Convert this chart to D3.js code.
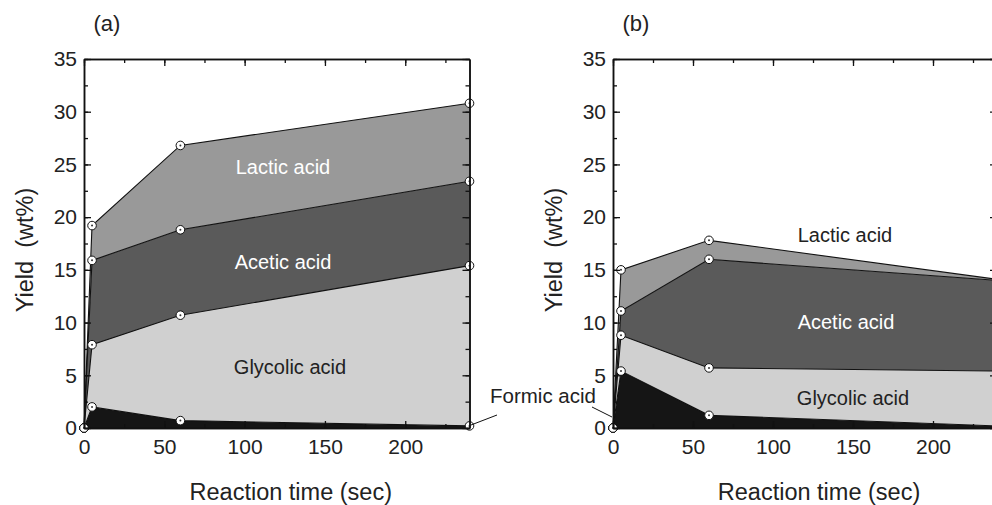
<!DOCTYPE html>
<html>
<head>
<meta charset="utf-8">
<script src="https://cdn.jsdelivr.net/npm/d3@7"></script>
<style>
  body { margin: 0; background: #fff; }
  svg text { font-family: "Liberation Sans", Arial, Helvetica, sans-serif; }
</style>
</head>
<body>
<div id="chart"></div>
<script>
// reaction times (sec)
var times = [0, 5, 60, 240];
var acids = ["Formic acid", "Glycolic acid", "Acetic acid", "Lactic acid"];

// yields of each acid (wt%), panel (a)
var formicA   = [0, 2.0, 0.7, 0.2];
var glycolicA = [0, 5.9, 10.0, 15.2];
var aceticA   = [0, 8.0, 8.1, 8.0];
var lacticA   = [0, 3.3, 8.0, 7.4];

// yields of each acid (wt%), panel (b)
var formicB   = [0, 5.4, 1.2, 0.2];
var glycolicB = [0, 3.4, 4.5, 5.2];
var aceticB   = [0, 2.3, 10.3, 8.6];
var lacticB   = [0, 3.9, 1.8, 0.1];

var yTicks = [0, 5, 10, 15, 20, 25, 30, 35];
var xTicks = [0, 50, 100, 150, 200];

var fills = {"Formic acid": "#151515", "Glycolic acid": "#d0d0d0",
             "Acetic acid": "#5a5a5a", "Lactic acid": "#999999"};

var W = 992, H = 505;
var svg = d3.select("#chart").append("svg")
    .attr("width", W).attr("height", H);

function drawPanel(p) {
  var x = d3.scaleLinear().domain([0, 240]).range([p.left, p.right]);
  var y = d3.scaleLinear().domain([0, 35]).range([428, 59]);
  var g = svg.append("g");

  // build rows for stacking
  var rows = times.map(function(t, i) {
    return {t: t, "Formic acid": p.formic[i], "Glycolic acid": p.glycolic[i],
            "Acetic acid": p.acetic[i], "Lactic acid": p.lactic[i]};
  });
  var series = d3.stack().keys(acids)(rows);

  var area = d3.area()
    .x(function(d) { return x(d.data.t); })
    .y0(function(d) { return y(d[0]); })
    .y1(function(d) { return y(d[1]); });
  var line = d3.line()
    .x(function(d) { return x(d.data.t); })
    .y(function(d) { return y(d[1]); });

  g.selectAll(".layer").data(series).enter().append("path")
    .attr("class", "layer")
    .attr("d", area)
    .attr("fill", function(d) { return fills[d.key]; });

  g.selectAll(".edge").data(series).enter().append("path")
    .attr("class", "edge")
    .attr("d", line)
    .attr("fill", "none")
    .attr("stroke", "#111")
    .attr("stroke-width", 1.1);

  //markers
  series.forEach(function(s) {
    var m = g.selectAll(null).data(s).enter().append("g")
      .attr("transform", function(d) { return "translate(" + x(d.data.t) + "," + y(d[1]) + ")"; });
    m.append("circle").attr("r", 4.3).attr("fill", "#fff")
      .attr("stroke", "#111").attr("stroke-width", 1);
    m.append("circle").attr("r", 1).attr("fill", "#333");
  });

  // axes, ticks inward on all four sides
  var minorX = d3.range(0, 240, 25), minorY = d3.range(0, 35.1, 2.5);
  function tickAxis(axis, vals, size, pos, pad) {
    var a = axis.tickValues(vals).tickSizeInner(-size).tickSizeOuter(0).tickPadding(pad || 0);
    if (!pad) a.tickFormat("");
    var ag = g.append("g").attr("transform", pos).call(a);
    ag.selectAll("text").attr("font-size", 21).attr("fill", "#222");
    ag.selectAll("line").attr("stroke", "#111").attr("stroke-width", 1.3);
    ag.select(".domain").attr("stroke", "#111").attr("stroke-width", 1.5);
    ag.attr("font-family", null);
    return ag;
  }
  tickAxis(d3.axisBottom(x), minorX, 4, "translate(0,428)");
  tickAxis(d3.axisBottom(x), xTicks, 7, "translate(0,428)", 11);
  tickAxis(d3.axisTop(x), minorX, 4, "translate(0,59)");
  tickAxis(d3.axisTop(x), xTicks, 7, "translate(0,59)");
  tickAxis(d3.axisLeft(y), minorY, 4, "translate(" + p.left + ",0)");
  tickAxis(d3.axisLeft(y), yTicks, 7, "translate(" + p.left + ",0)", 7);
  tickAxis(d3.axisRight(y), minorY, 4, "translate(" + p.right + ",0)");
  tickAxis(d3.axisRight(y), yTicks, 7, "translate(" + p.right + ",0)");

  // titles
  g.append("text").attr("x", x(120) + 14).attr("y", 500)
    .attr("text-anchor", "middle").attr("font-size", 23.5).attr("fill", "#222")
    .text("Reaction time (sec)");
  g.append("text")
    .attr("transform", "translate(" + (p.left - 51) + ",250) rotate(-90)")
    .attr("text-anchor", "middle").attr("font-size", 23.5).attr("fill", "#222")
    .text("Yield\u00a0\u00a0(wt%)");
  g.append("text").attr("x", p.left + 23).attr("y", 31)
    .attr("text-anchor", "middle").attr("font-size", 22).attr("fill", "#222")
    .text(p.tag);

  // area labels
  p.labels.forEach(function(l) {
    g.append("text").attr("x", l[1]).attr("y", l[2])
      .attr("text-anchor", "middle").attr("font-size", 20)
      .attr("fill", l[3]).text(l[0]);
  });
}

drawPanel({left: 84, right: 469.5, tag: "(a)",
  formic: formicA, glycolic: glycolicA, acetic: aceticA, lactic: lacticA,
  labels: [["Lactic acid", 283, 174, "#fff"], ["Acetic acid", 283, 269, "#fff"],
           ["Glycolic acid", 290, 374, "#222"]]});
drawPanel({left: 613, right: 997, tag: "(b)",
  formic: formicB, glycolic: glycolicB, acetic: aceticB, lactic: lacticB,
  labels: [["Lactic acid", 845, 242, "#222"], ["Acetic acid", 846, 329, "#fff"],
           ["Glycolic acid", 853, 405, "#222"]]});

// shared formic acid label with leader lines
svg.append("text").attr("x", 490).attr("y", 403).attr("font-size", 20.5)
  .attr("fill", "#222").text("Formic acid");
svg.append("line").attr("x1", 471).attr("y1", 425).attr("x2", 497).attr("y2", 415)
  .attr("stroke", "#111").attr("stroke-width", 1);
svg.append("line").attr("x1", 592).attr("y1", 407).attr("x2", 612).attr("y2", 417)
  .attr("stroke", "#111").attr("stroke-width", 1);
</script>
</body>
</html>
